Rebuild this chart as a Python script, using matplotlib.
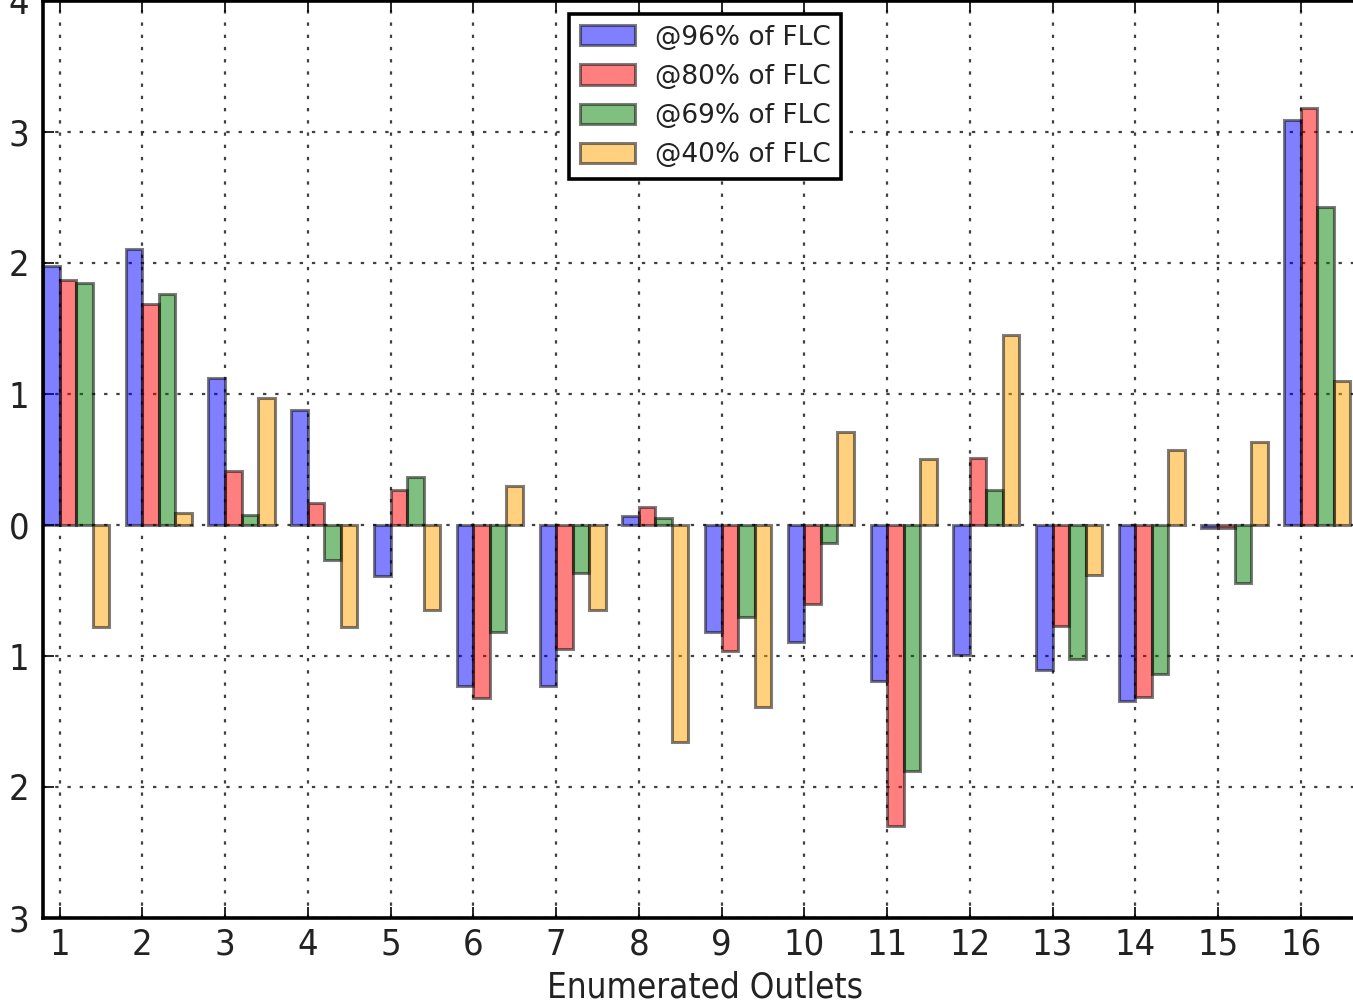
import numpy as np
import matplotlib
matplotlib.use("Agg")
import matplotlib.pyplot as plt
from matplotlib.ticker import FuncFormatter

# deviation per outlet, one list per load level
outlets = list(range(1, 17))
labels = ["@96% of FLC", "@80% of FLC", "@69% of FLC", "@40% of FLC"]
flc96 = [1.98, 2.11, 1.12, 0.88, -0.39, -1.23, -1.23, 0.07, -0.82, -0.89, -1.19, -0.99, -1.11, -1.34, -0.02, 3.09]
flc80 = [1.87, 1.69, 0.41, 0.17, 0.27, -1.32, -0.95, 0.14, -0.96, -0.60, -2.30, 0.51, -0.77, -1.31, -0.02, 3.18]
flc69 = [1.85, 1.76, 0.08, -0.27, 0.37, -0.82, -0.37, 0.05, -0.70, -0.14, -1.88, 0.27, -1.02, -1.14, -0.44, 2.43]
flc40 = [-0.78, 0.09, 0.97, -0.78, -0.65, 0.30, -0.65, -1.66, -1.39, 0.71, 0.505, 1.45, -0.38, 0.57, 0.63, 1.10]
colors = ["blue", "red", "green", "orange"]

plt.rcParams["font.family"] = "DejaVu Sans"
plt.rcParams["font.stretch"] = "condensed"

fig = plt.figure(figsize=(13.53, 10.02), dpi=100)
ax = fig.add_axes([43 / 1353, 84 / 1002, 1324 / 1353, 917 / 1002])

x = np.array(outlets, dtype=float)
w = 0.2
for i, (vals, lab, col) in enumerate(zip([flc96, flc80, flc69, flc40], labels, colors)):
    ax.bar(x - w + i * w, vals, width=w, align="edge", color=col, alpha=0.5,
           edgecolor="black", linewidth=2.2, label=lab, zorder=2)

ax.set_xlim(0.8, 16.8)
ax.set_ylim(-3, 4)
ax.set_xticks(outlets)
ax.set_yticks(range(-3, 5))
# the negative signs are cut off at the left edge of the picture
ax.yaxis.set_major_formatter(FuncFormatter(lambda v, p: "%d" % abs(v)))

ax.grid(True, color="black", alpha=0.75, linestyle=(0, (1.5, 4)), linewidth=1.6, zorder=0)
ax.set_axisbelow(True)
for s in ax.spines.values():
    s.set_linewidth(2.6)
ax.tick_params(direction="in", length=8, width=1.2, labelsize=26, pad=7,
               top=True, right=True, labelcolor="#222222")
ax.tick_params(axis="y", pad=10)
ax.set_xlabel("Enumerated Outlets", fontsize=25, color="#222222", labelpad=6)

leg = ax.legend(loc="upper center", bbox_to_anchor=(705 / 1353, 1 - 14 / 1002),
                bbox_transform=fig.transFigure, fancybox=False,
                prop={"size": 19, "stretch": "normal"},
                edgecolor="black", framealpha=1, handlelength=2.1, handleheight=0.8,
                handletextpad=0.75, labelspacing=0.5, borderpad=0.4, borderaxespad=0)
leg.get_frame().set_linewidth(2.6)
for t in leg.get_texts():
    t.set_color("#222222")

fig.savefig("out.png", dpi=100)
